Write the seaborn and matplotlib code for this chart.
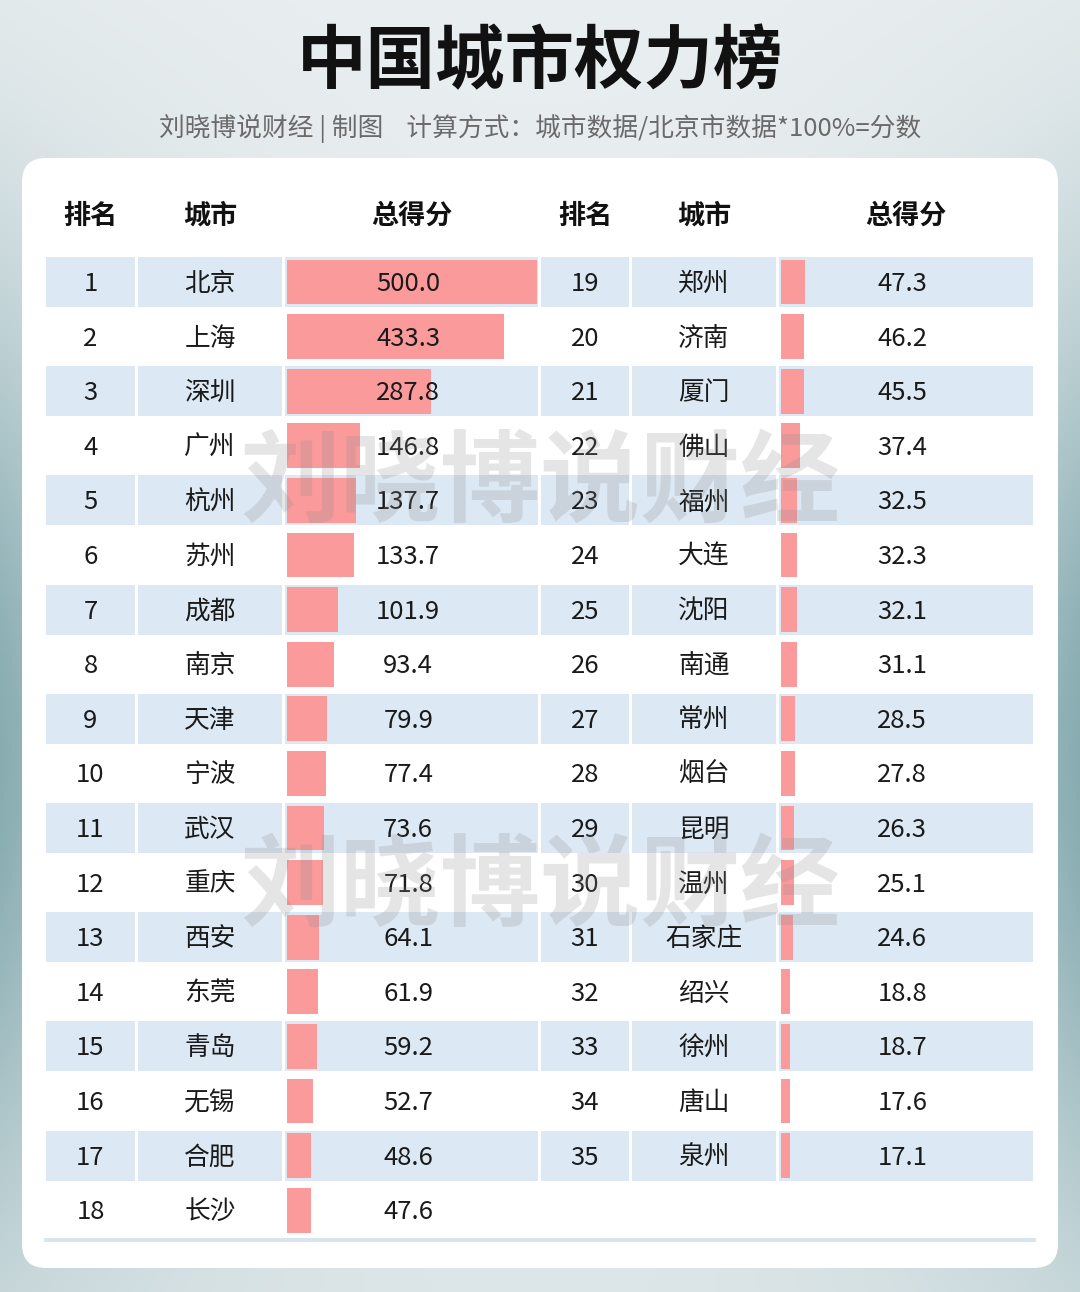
import numpy as np
import matplotlib.pyplot as plt
import matplotlib.transforms as mtransforms
from matplotlib.patches import FancyBboxPatch, Rectangle
from matplotlib.colors import to_rgb
import seaborn as sns

# data
headers = ["排名", "城市", "总得分"]
left_ranks = list(range(1, 19))
left_cities = ["北京", "上海", "深圳", "广州", "杭州", "苏州", "成都", "南京", "天津",
               "宁波", "武汉", "重庆", "西安", "东莞", "青岛", "无锡", "合肥", "长沙"]
left_scores = [500.0, 433.3, 287.8, 146.8, 137.7, 133.7, 101.9, 93.4, 79.9,
               77.4, 73.6, 71.8, 64.1, 61.9, 59.2, 52.7, 48.6, 47.6]
right_ranks = list(range(19, 36))
right_cities = ["郑州", "济南", "厦门", "佛山", "福州", "大连", "沈阳", "南通", "常州",
                "烟台", "昆明", "温州", "石家庄", "绍兴", "徐州", "唐山", "泉州"]
right_scores = [47.3, 46.2, 45.5, 37.4, 32.5, 32.3, 32.1, 31.1, 28.5,
                27.8, 26.3, 25.1, 24.6, 18.8, 18.7, 17.6, 17.1]

sns.set_theme(style="white")
plt.rcParams['font.family'] = ['Noto Sans CJK SC', 'DejaVu Sans']

W, H = 1080, 1292
fig = plt.figure(figsize=(W / 100, H / 100), dpi=100)
bg = fig.add_axes([0, 0, 1, 1])
bg.set_xlim(0, W)
bg.set_ylim(H, 0)
bg.axis('off')

# background gradient: light top, teal at the side edges around the middle
yy, xx = np.mgrid[0:1:323j, 0:1:270j]
light = np.array(to_rgb('#e9eef0'))
dark = np.array(to_rgb('#80a7ac'))
e = (np.abs(xx - 0.5) * 2) ** 2.5
g = np.exp(-((yy - 0.58) / 0.36) ** 2)
f = np.clip(0.85 * e * g + 0.12 * yy, 0, 1)[..., None]
bg.imshow(light + (dark - light) * f, extent=(0, W, H, 0), aspect='auto', zorder=0)

# white card
bg.add_patch(FancyBboxPatch((22, 158), 1036, 1110, boxstyle="round,pad=0,rounding_size=24",
                            fc='white', ec='none', zorder=1))

bg.text(540, 63, "中国城市权力榜", fontsize=50, fontweight='heavy', color='#111111',
        ha='center', va='center', zorder=2)
bg.text(540, 129, "刘晓博说财经 | 制图    计算方式：城市数据/北京市数据*100%=分数",
        fontsize=18.5, color='#6a6a6a', ha='center', va='center', zorder=2)

row0, pitch = 282, 54.6
dy = 2
cols_left = [(46, 135), (138, 282), (285, 538)]
cols_right = [(541, 629), (632, 776), (779, 1033)]
stripe = '#dce8f3'

for cols in (cols_left, cols_right):
    for (a, b), h in zip(cols, headers):
        bg.text((a + b) / 2, 216, h, fontsize=19.5, fontweight='bold', color='#111111',
                ha='center', va='center', zorder=2)

for cols, ranks, cities in ((cols_left, left_ranks, left_cities),
                            (cols_right, right_ranks, right_cities)):
    for i, (r, c) in enumerate(zip(ranks, cities)):
        yc = row0 + i * pitch
        if i % 2 == 0:
            for a, b in cols:
                bg.add_patch(Rectangle((a, yc - 25), b - a, 50, fc=stripe, ec='none', zorder=1.5))
        bg.text((cols[0][0] + cols[0][1]) / 2, yc + dy, str(r), fontsize=18.5, color='#1a1a1a',
                ha='center', va='center', zorder=2)
        bg.text((cols[1][0] + cols[1][1]) / 2, yc + dy, c, fontsize=18.5, color='#1a1a1a',
                ha='center', va='center', zorder=2)

bg.add_patch(Rectangle((44, 1238), 992, 4, fc='#d8e5ef', ec='none', zorder=1.5))

# bars
top = row0 - pitch / 2
bottom = top + 18 * pitch
for x0, cities, scores in ((287, left_cities, left_scores), (781, right_cities, right_scores)):
    ax = fig.add_axes([x0 / W, 1 - bottom / H, 250 / W, (bottom - top) / H])
    sns.barplot(x=scores, y=cities, orient='h', color='#fa9a9b', saturation=1,
                width=0.82, linewidth=0, edgecolor='none', ax=ax)
    ax.set_xlim(0, 500)
    ax.set_ylim(17.5, -0.5)
    ax.axis('off')
    ax.patch.set_alpha(0)
    tr = mtransforms.blended_transform_factory(ax.transAxes, ax.transData)
    off = mtransforms.offset_copy(tr, fig=fig, y=-dy * 0.72, units='points')
    for i, s in enumerate(scores):
        ax.text(0.485, i, f"{s:.1f}", transform=off, fontsize=18.5, color='#1a1a1a',
                ha='center', va='center')

# watermark
for yc in (484, 888):
    fig.text(0.5, 1 - yc / H, "刘晓博说财经", fontsize=72, fontweight='heavy',
             color='#8c8c8c', alpha=0.22, ha='center', va='center')

fig.savefig("out.png", dpi=100)
